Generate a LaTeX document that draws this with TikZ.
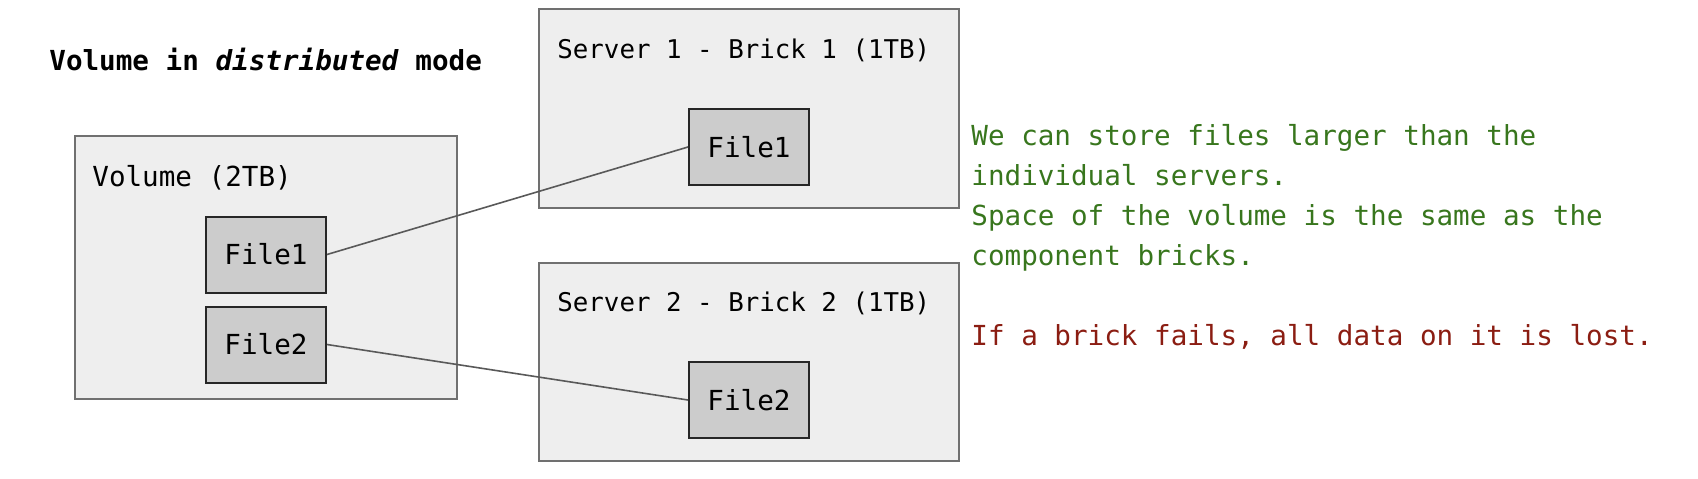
\documentclass[tikz,border=0pt]{standalone}
\usepackage{fontspec}
\setmonofont{DejaVu Sans Mono}
\usepackage{tikz}

\definecolor{boxfill}{HTML}{EEEEEE}
\definecolor{filefill}{HTML}{CCCCCC}
\definecolor{boxline}{HTML}{707070}
\definecolor{okgreen}{HTML}{38761D}
\definecolor{badred}{HTML}{8B1D12}

\begin{document}
\begin{tikzpicture}[x=0.5pt, y=-0.5pt, font=\ttfamily\fontsize{13.8}{20}\selectfont,
    box/.style={draw=boxline, line width=1pt, fill=boxfill, inner sep=0pt},
    filebox/.style={draw=black!85, line width=1pt, fill=filefill, minimum width=60pt, minimum height=38pt, inner sep=0pt},
    label/.style={anchor=base west, inner sep=0pt},
    link/.style={draw=black!65, line width=0.8pt}]
    \useasboundingbox (0,0) rectangle (1698,478);

    \node[label] (title) at (49,70) {\textbf{Volume in \textit{distributed} mode}};

    \node[box, minimum width=191pt, minimum height=131.5pt] (Vol) at (266,267.5) {};
    \node[label] (VolName) at (92,186) {Volume (2TB)};
    \node[filebox] (VolF1) at (266,254.5) {File1};
    \node[filebox] (VolF2) at (266,344.5) {File2};

    \node[box, minimum width=210pt, minimum height=99.5pt] (Srv1) at (749,108.5) {};
    \node[label, font=\ttfamily\fontsize{12.9}{15}\selectfont] (Srv1Name) at (557,58) {Server 1 - Brick 1 (1TB)};
    \node[filebox] (SrvF1) at (749,147) {File1};

    \node[box, minimum width=210pt, minimum height=99pt] (Srv2) at (749,362) {};
    \node[label, font=\ttfamily\fontsize{12.9}{15}\selectfont] (Srv2Name) at (557,311) {Server 2 - Brick 2 (1TB)};
    \node[filebox] (SrvF2) at (749,400) {File2};

    \draw[link] (VolF1.east) -- (SrvF1.west);
    \draw[link] (VolF2.east) -- (SrvF2.west);

    % base of a multi-line node is its last line
    \node[label, align=left, text=okgreen] (good) at (971,265)
        {We can store files larger than the\\individual servers.\\Space of the volume is the same as the\\component bricks.};
    \node[label, text=badred] (bad) at (971,345) {If a brick fails, all data on it is lost.};

\end{tikzpicture}
\end{document}
